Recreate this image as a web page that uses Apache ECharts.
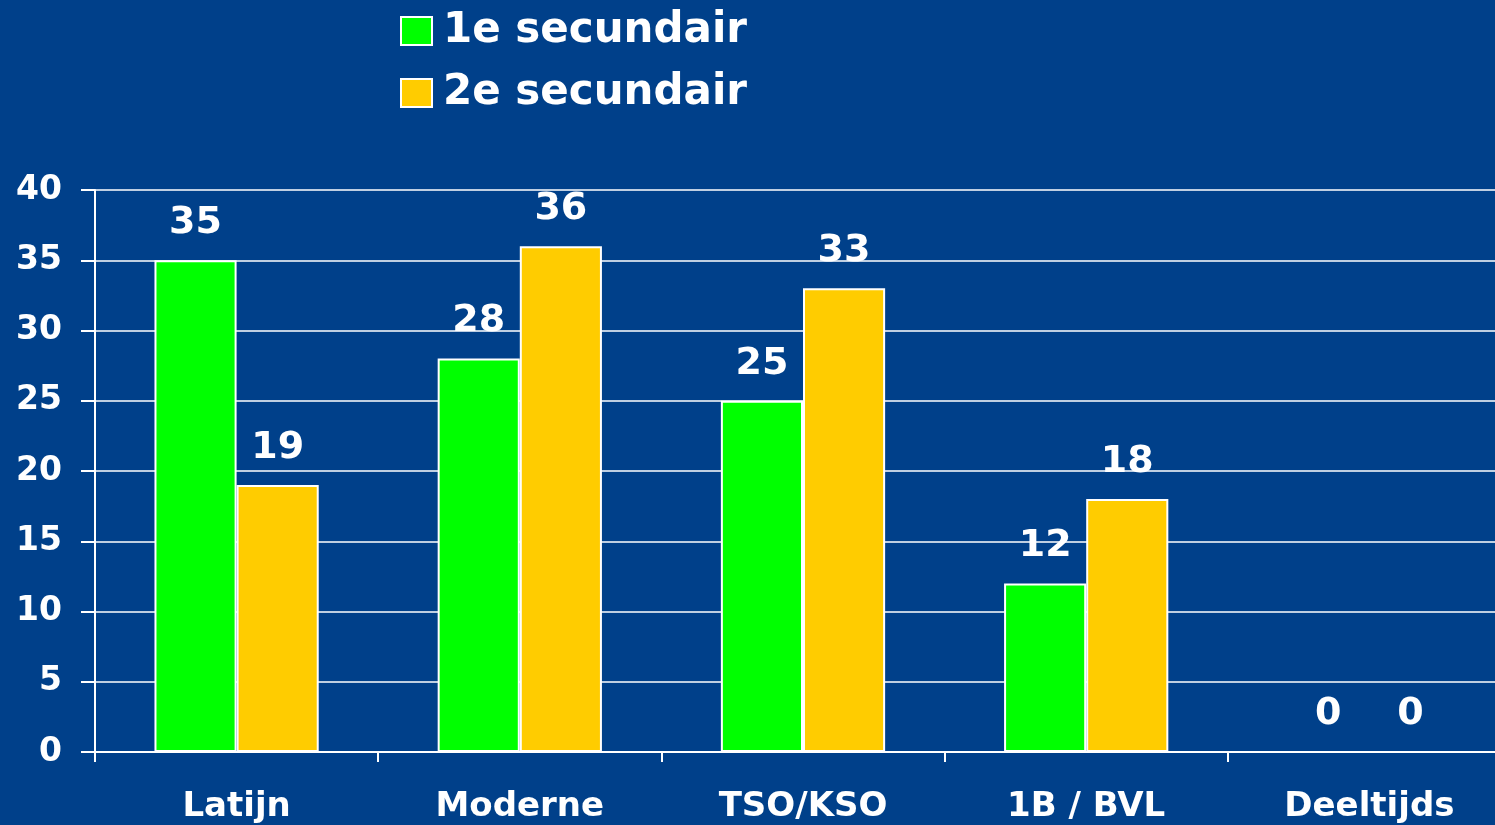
<!DOCTYPE html>
<html><head><meta charset="utf-8">
<script src="https://cdn.jsdelivr.net/npm/echarts@6/dist/echarts.min.js"></script>
<style>html,body{margin:0;padding:0;background:#00408A;overflow:hidden;width:1495px;height:825px;}#c{width:1511px;height:825px;}</style>
</head><body><div id="c"></div>
<script>
const categories = ['Latijn', 'Moderne', 'TSO/KSO', '1B / BVL', 'Deeltijds'];
const series1 = [35, 28, 25, 12, 0];
const series2 = [19, 36, 33, 18, 0];
const seriesNames = ['1e secundair', '2e secundair'];
const yTicks = { min: 0, max: 40, interval: 5 };

const font = 'DejaVu Sans';
const chart = echarts.init(document.getElementById('c'), null, { renderer: 'canvas' });
const labelCfg = { show: true, position: 'top', distance: 18, color: '#fff', fontFamily: font, fontWeight: 'bold', fontSize: 38 };
chart.setOption({
  backgroundColor: '#00408A',
  animation: false,
  legend: {
    orient: 'vertical', left: 395, top: 5,
    icon: 'rect',
    itemWidth: 31, itemHeight: 28, itemGap: 20,
    textStyle: { color: '#fff', fontFamily: font, fontWeight: 'bold', fontSize: 42, padding: [0, 0, 0, 6] },
    data: seriesNames
  },
  grid: { left: 95, right: 0, top: 190, bottom: 73, containLabel: false },
  xAxis: {
    type: 'category', data: categories,
    axisLine: { lineStyle: { color: '#fff', width: 2 } },
    axisTick: { show: true, length: 10, lineStyle: { color: '#fff', width: 2 } },
    axisLabel: { color: '#fff', fontFamily: font, fontWeight: 'bold', fontSize: 34, margin: 38 }
  },
  yAxis: {
    type: 'value', min: yTicks.min, max: yTicks.max, interval: yTicks.interval,
    axisLine: { show: true, lineStyle: { color: '#fff', width: 2 } },
    axisTick: { show: true, length: 14, lineStyle: { color: '#fff', width: 2 } },
    splitLine: { show: true, lineStyle: { color: '#fff', width: 1.5 } },
    axisLabel: { color: '#fff', fontFamily: font, fontWeight: 'bold', fontSize: 33, margin: 33 }
  },
  series: [
    { name: seriesNames[0], type: 'bar', data: series1, barGap: '0%', barCategoryGap: '42%',
      itemStyle: { color: '#00FF00', borderColor: '#fff', borderWidth: 2 }, label: labelCfg },
    { name: seriesNames[1], type: 'bar', data: series2, barGap: '0%', barCategoryGap: '42%',
      itemStyle: { color: '#FFCC00', borderColor: '#fff', borderWidth: 2 }, label: labelCfg }
  ]
});
</script></body></html>
